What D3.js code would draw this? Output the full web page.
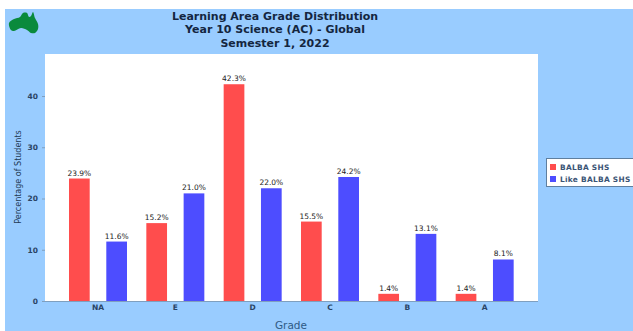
<!DOCTYPE html>
<html>
<head>
<meta charset="utf-8">
<script src="https://cdn.jsdelivr.net/npm/d3@7"></script>
<style>
html,body{margin:0;padding:0;background:#fff}
svg{display:block}
text{font-family:"DejaVu Sans",sans-serif}
</style>
</head>
<body>
<svg id="chart" width="633" height="331"></svg>
<script>
// Grade distribution: school share against like schools, per grade
const grades = ["NA", "E", "D", "C", "B", "A"];
const schoolValues = [23.9, 15.2, 42.3, 15.5, 1.4, 1.4];
const likeValues = [11.6, 21.0, 22.0, 24.2, 13.1, 8.1];
const seriesNames = ["BALBA SHS", "Like BALBA SHS"];
const seriesColors = ["#ff4d4d", "#4d4dff"];
const titleLines = ["Learning Area Grade Distribution", "Year 10 Science (AC) - Global", "Semester 1, 2022"];
const yTicks = [0, 10, 20, 30, 40];

const svg = d3.select("#chart");
const plot = {left: 45, right: 538, top: 54, bottom: 301};

// Panel background
svg.append("rect").attr("x", 5).attr("y", 9).attr("width", 628).attr("height", 322).attr("fill", "#99ccff");
svg.append("rect").attr("x", plot.left).attr("y", plot.top)
  .attr("width", plot.right - plot.left).attr("height", plot.bottom - plot.top).attr("fill", "#ffffff");

// Map emblem in the corner
const emblem = [[9,23],[14,19],[20,17],[23,13],[27,13],[29,17],[31,16],[33,12],[35,18],[38,24],[38,29],[35,33],[31,33],[27,30],[21,28],[14,31],[11,30]];
svg.append("path").attr("d", d3.line().curve(d3.curveCatmullRomClosed)(emblem)).attr("fill", "#0a8a3c");

const x0 = d3.scaleBand().domain(grades).range([59.3, 523.3]);
const y = d3.scaleLinear().domain([0, 48.2]).range([plot.bottom, plot.top]);
const barW = 20.7;
const offset = [9.7, 47];

// Bars and value labels, one group per series
[schoolValues, likeValues].forEach((vals, s) => {
  const g = svg.append("g");
  g.selectAll("rect").data(vals).join("rect")
    .attr("x", (d, i) => x0(grades[i]) + offset[s])
    .attr("width", barW)
    .attr("y", d => y(d))
    .attr("height", d => y(0) - y(d))
    .attr("fill", seriesColors[s]);
  g.selectAll("text").data(vals).join("text")
    .attr("x", (d, i) => x0(grades[i]) + offset[s] + barW / 2)
    .attr("y", d => y(d) - 3)
    .attr("text-anchor", "middle")
    .attr("font-size", 7.5)
    .attr("fill", "#222")
    .text(d => d.toFixed(1) + "%");
});

// Axes
const axisColor = "#7f9fbf";
const yAxis = d3.axisLeft(y).tickValues(yTicks).tickSize(3).tickPadding(4);
const gy = svg.append("g").attr("transform", `translate(${plot.left},0)`).call(yAxis);
const xAxis = d3.axisBottom(x0).tickSize(0).tickPadding(4);
const gx = svg.append("g").attr("transform", `translate(0,${plot.bottom})`).call(xAxis);
gx.select("path").attr("d", `M${plot.left},0.5H${plot.right}`);
gy.select("path").attr("stroke-opacity", 0);
[gx, gy].forEach(a => {
  a.selectAll("path").attr("stroke", axisColor);
  a.selectAll("line").attr("stroke", axisColor);
  a.selectAll("text").attr("font-size", 7.5).attr("font-family", '"DejaVu Sans",sans-serif').attr("font-weight", "bold").attr("fill", "#2a4465");
});

// Titles
svg.append("g").selectAll("text").data(titleLines).join("text")
  .attr("x", 275).attr("y", (d, i) => 19.8 + i * 13.5)
  .attr("text-anchor", "middle").attr("font-size", 11).attr("font-weight", "bold")
  .attr("fill", "#14263f").text(d => d);
svg.append("text").attr("x", 291).attr("y", 329).attr("text-anchor", "middle")
  .attr("font-size", 10.5).attr("fill", "#2f5a85").text("Grade");
svg.append("text").attr("transform", "translate(21,177) rotate(-90)").attr("text-anchor", "middle")
  .attr("font-size", 8).attr("fill", "#223a55").text("Percentage of Students");

// Legend
const legend = svg.append("g");
legend.append("rect").attr("x", 546.5).attr("y", 158.5).attr("width", 92).attr("height", 28)
  .attr("fill", "#fff").attr("stroke", "#5f7f9f");
seriesNames.forEach((name, i) => {
  legend.append("rect").attr("x", 550).attr("y", 164 + i * 12).attr("width", 6).attr("height", 6).attr("fill", seriesColors[i]);
  legend.append("text").attr("x", 560).attr("y", 170 + i * 12).attr("font-size", 7.4).attr("font-weight", "bold").attr("letter-spacing", 0.3).attr("fill", "#3a5475").text(name);
});
</script>
</body>
</html>
